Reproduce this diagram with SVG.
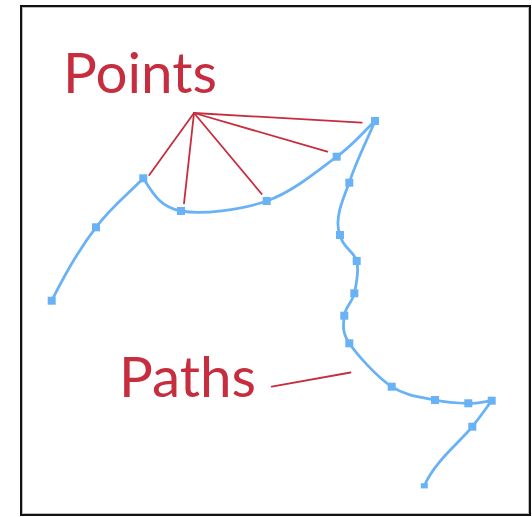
<svg xmlns="http://www.w3.org/2000/svg" width="532" height="517" viewBox="0 0 532 517">
  <style>
    .frame { fill: #ffffff; stroke: #111111; stroke-width: 2; }
    .inner { fill: none; stroke: #bdbdbd; stroke-width: 1; }
    .curve { fill: none; stroke: #69b2f5; stroke-width: 2.8; stroke-linejoin: round; stroke-linecap: round; }
    .pt { fill: #69b2f5; }
    .lead { stroke: #c62d3e; stroke-width: 1.8; stroke-linecap: round; fill: none; }
    .label { font-family: Lato, "Noto Sans", "Liberation Sans", sans-serif; font-size: 56.5px; fill: #c62d3e; }
  </style>
  <defs>
    <rect id="sq" x="-4" y="-4" width="8" height="8" class="pt"/>
  </defs>

  <rect class="frame" x="21" y="6" width="509" height="509"/>
  <rect class="inner" x="22.5" y="7.5" width="506" height="506"/>

  <!-- the traced curve -->
  <g id="path-curve">
    <path class="curve" d="M51.7,300.7 C64,276 80,248 96,227.3 C111.3,206.9 127.5,194.6 143.3,178.3
      C153,194 160.4,207.2 181,211 C201.6,214.8 240.75,210.05 266.7,201
      C292.65,191.95 318.65,170.03 336.7,156.7 C354.75,143.37 362.2,132.9 375,121
      C366.4,141.6 355.1,163.7 349.3,182.7 C342,201 334,220 340,235
      C342.5,248 354.3,251.3 356.7,261 C359.1,270.7 356.4,284.2 354.3,293.3
      C352.2,302.4 345.1,307.4 344.3,315.7 C343.5,324 341.4,331.5 349.3,343.3
      C357.2,355.1 377.4,377.25 391.7,386.7 C406,396.15 422.2,397.2 435,400
      C447.8,402.8 458.9,403.2 468.3,403.3 C477.75,403.4 483.9,401.6 491.7,400.7
      C485.2,409.4 483.5,412.5 472.3,426.7 C461.1,440.9 434,462 424.3,486"/>
  </g>

  <!-- anchor points -->
  <g id="points">
    <use href="#sq" x="51.7" y="300.7"/>
    <use href="#sq" x="96" y="227.3"/>
    <use href="#sq" x="143.3" y="178.3"/>
    <use href="#sq" x="181" y="211"/>
    <use href="#sq" x="266.7" y="201"/>
    <use href="#sq" x="336.7" y="156.7"/>
    <use href="#sq" x="375" y="121"/>
    <use href="#sq" x="349.3" y="182.7"/>
    <use href="#sq" x="340" y="235"/>
    <use href="#sq" x="356.7" y="261"/>
    <use href="#sq" x="354.3" y="293.3"/>
    <use href="#sq" x="344.3" y="315.7"/>
    <use href="#sq" x="349.3" y="343.3"/>
    <use href="#sq" x="391.7" y="386.7"/>
    <use href="#sq" x="435" y="400"/>
    <use href="#sq" x="468.3" y="403.3"/>
    <use href="#sq" x="491.7" y="400.7"/>
    <use href="#sq" x="472.3" y="426.7"/>
    <rect class="pt" x="420.8" y="483.2" width="7" height="5.2"/>
  </g>

  <!-- label leaders -->
  <g id="connectors">
    <line class="lead" x1="194" y1="113" x2="149.3" y2="175"/>
    <line class="lead" x1="194" y1="113" x2="184" y2="203.3"/>
    <line class="lead" x1="194" y1="113" x2="261.7" y2="194"/>
    <line class="lead" x1="194" y1="113" x2="327.3" y2="151.7"/>
    <line class="lead" x1="194" y1="113" x2="361.7" y2="122.7"/>
    <line class="lead" x1="271.7" y1="386.7" x2="350.5" y2="372.5"/>
  </g>

  <g id="label-points">
    <text class="label" x="63" y="92.5">Points</text>
  </g>
  <g id="label-paths">
    <text class="label" x="119" y="397">Paths</text>
  </g>
</svg>
